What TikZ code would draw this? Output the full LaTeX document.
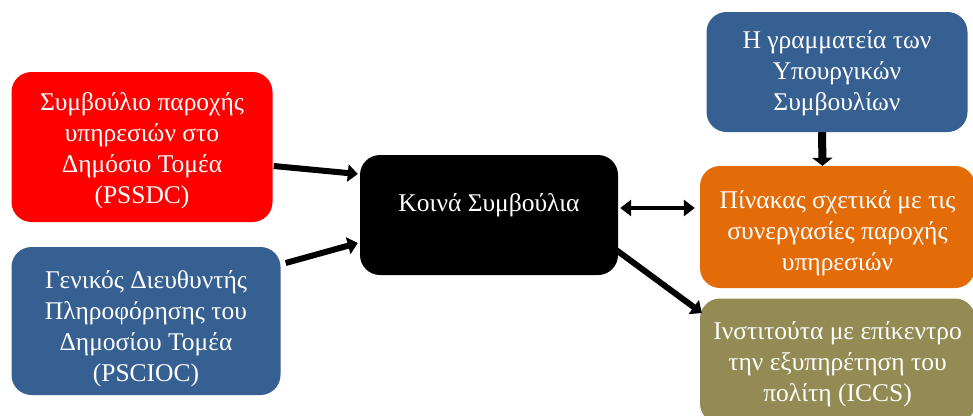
\documentclass[tikz,border=0pt]{standalone}
\usepackage{fontspec}
\setmainfont{Liberation Serif}
\usetikzlibrary{arrows.meta,shadows}
\definecolor{cred}{HTML}{FF0000}
\definecolor{cblue}{HTML}{376092}
\definecolor{corange}{HTML}{E36C09}
\definecolor{colive}{HTML}{948A54}
\tikzset{
  boxnode/.style={rounded corners=20pt, draw=none, inner sep=0pt},
  boxtext/.style={text=white, align=center, inner sep=0pt,
    font=\fontsize{25.5}{31}\selectfont},
  arr/.style={line width=6pt, black, -{Triangle[length=10pt,width=17pt]},
    drop shadow={opacity=0.3, shadow xshift=1pt, shadow yshift=-1.5pt}},
  darr/.style={line width=4.5pt, black, {Triangle[length=11pt,width=16pt]}-{Triangle[length=11pt,width=16pt]}}
}
\begin{document}
\begin{tikzpicture}[x=1pt,y=-1pt]
\useasboundingbox (0,0) rectangle (973,415);
\node[boxnode, fill=cred, minimum width=261pt, minimum height=150pt,
  label={[boxtext, yshift=-3.5pt]center:{Συμβούλιο παροχής\\υπηρεσιών στο\\Δημόσιο Τομέα\\(PSSDC)}}] (red) at (142,147) {};
\node[boxnode, fill=cblue, minimum width=269pt, minimum height=148pt,
  label={[boxtext, yshift=-8pt]center:{Γενικός Διευθυντής\\Πληροφόρησης του\\Δημοσίου Τομέα\\(PSCIOC)}}] (blue) at (146,321) {};
\node[boxnode, fill=black, minimum width=258pt, minimum height=120pt,
  label={[boxtext, yshift=10pt]center:{Κοινά Συμβούλια}}] (black) at (489,215) {};
\node[boxnode, fill=cblue, minimum width=261pt, minimum height=120pt,
  label={[boxtext, yshift=-1pt]center:{Η γραμματεία των\\Υπουργικών\\Συμβουλίων}}] (top) at (837,72) {};
\node[boxnode, fill=corange, minimum width=275pt, minimum height=122pt,
  label={[boxtext, yshift=-6pt]center:{Πίνακας σχετικά με τις\\συνεργασίες παροχής\\υπηρεσιών}}] (orange) at (837.5,227) {};
\node[boxnode, fill=colive, minimum width=275pt, minimum height=125pt,
  label={[boxtext, yshift=-3pt]center:{Ινστιτούτα με επίκεντρο\\την εξυπηρέτηση του\\πολίτη (ICCS)}}] (olive) at (837.5,361) {};
\draw[arr] ([xshift=1pt,yshift=-19pt]red.east) -- ([xshift=-2pt,yshift=41pt]black.west);
\draw[arr] ([xshift=5pt,yshift=58pt]blue.east) -- ([xshift=-2pt,yshift=-28pt]black.west);
\draw[darr] ([xshift=2pt,yshift=7pt]black.east) -- ([xshift=-5pt,yshift=19pt]orange.west);
\draw[arr] ([xshift=-2pt,yshift=-35pt]black.east) -- ([xshift=2pt,yshift=48pt]olive.west);
\draw[arr, line width=8pt, -{Triangle[length=8pt,width=20pt]}] ([xshift=-15pt]top.south) -- ([xshift=-15pt]orange.north);
\end{tikzpicture}
\end{document}
